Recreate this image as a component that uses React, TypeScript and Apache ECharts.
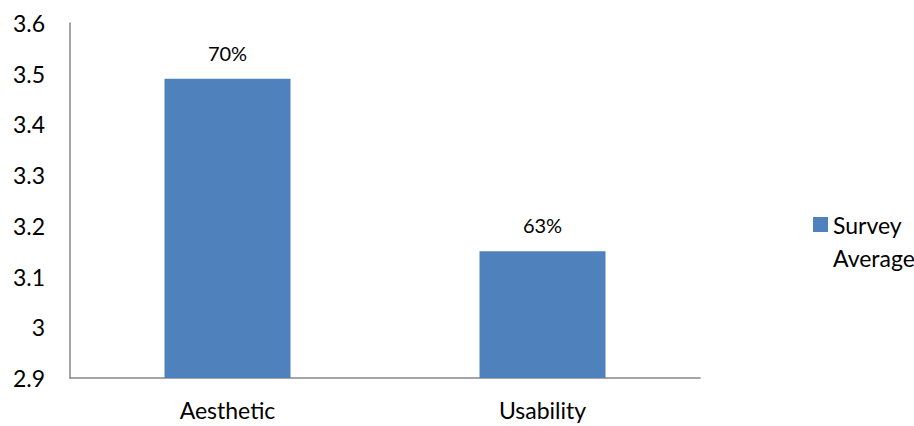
import React, { useEffect, useRef } from "react";
import * as echarts from "echarts";

const categories = ["Aesthetic", "Usability"];
const averages = [3.49, 3.15];
const percentLabels = ["70%", "63%"];
const seriesName = "Survey Average";

export default function App() {
  const ref = useRef<HTMLDivElement>(null);
  useEffect(() => {
    if (!ref.current) return;
    const chart = echarts.init(ref.current, undefined, { renderer: "svg" });
    const font = "Lato, 'Noto Sans', sans-serif";
    chart.setOption({
      animation: false,
      backgroundColor: "#ffffff",
      textStyle: { fontFamily: font, color: "#000" },
      grid: { left: 70, right: 214, top: 23, bottom: 48, containLabel: false },
      legend: {
        left: 808,
        top: 170,
        itemWidth: 15,
        itemHeight: 15,
        itemGap: 0,
        icon: "rect",
        data: [seriesName],
        formatter: () => "\nSurvey\nAverage",
        textStyle: { fontFamily: font, fontSize: 23, color: "#000", lineHeight: 33 },
      },
      xAxis: {
        type: "category",
        data: categories,
        axisLine: { lineStyle: { color: "#868686", width: 1.5 } },
        axisTick: { show: false },
        axisLabel: { fontFamily: font, fontSize: 23, color: "#000", margin: 20 },
      },
      yAxis: {
        type: "value",
        min: 2.9,
        max: 3.6,
        interval: 0.1,
        splitLine: { show: false },
        axisLine: { show: true, lineStyle: { color: "#868686", width: 1.5 } },
        axisTick: { show: false },
        axisLabel: {
          fontFamily: font,
          fontSize: 23,
          color: "#000",
          margin: 25,
          formatter: (v: number) => String(Math.round(v * 10) / 10),
        },
      },
      series: [
        {
          name: seriesName,
          type: "bar",
          data: averages,
          barWidth: "40%",
          itemStyle: { color: "#4F81BD" },
          label: {
            show: true,
            position: "top",
            distance: 16,
            fontFamily: font,
            fontSize: 20,
            color: "#000",
            formatter: (p: any) => percentLabels[p.dataIndex],
          },
        },
      ],
    });
    return () => chart.dispose();
  }, []);
  return <div ref={ref} style={{ position: "fixed", left: 0, top: 0, width: 914, height: 426 }} />;
}
